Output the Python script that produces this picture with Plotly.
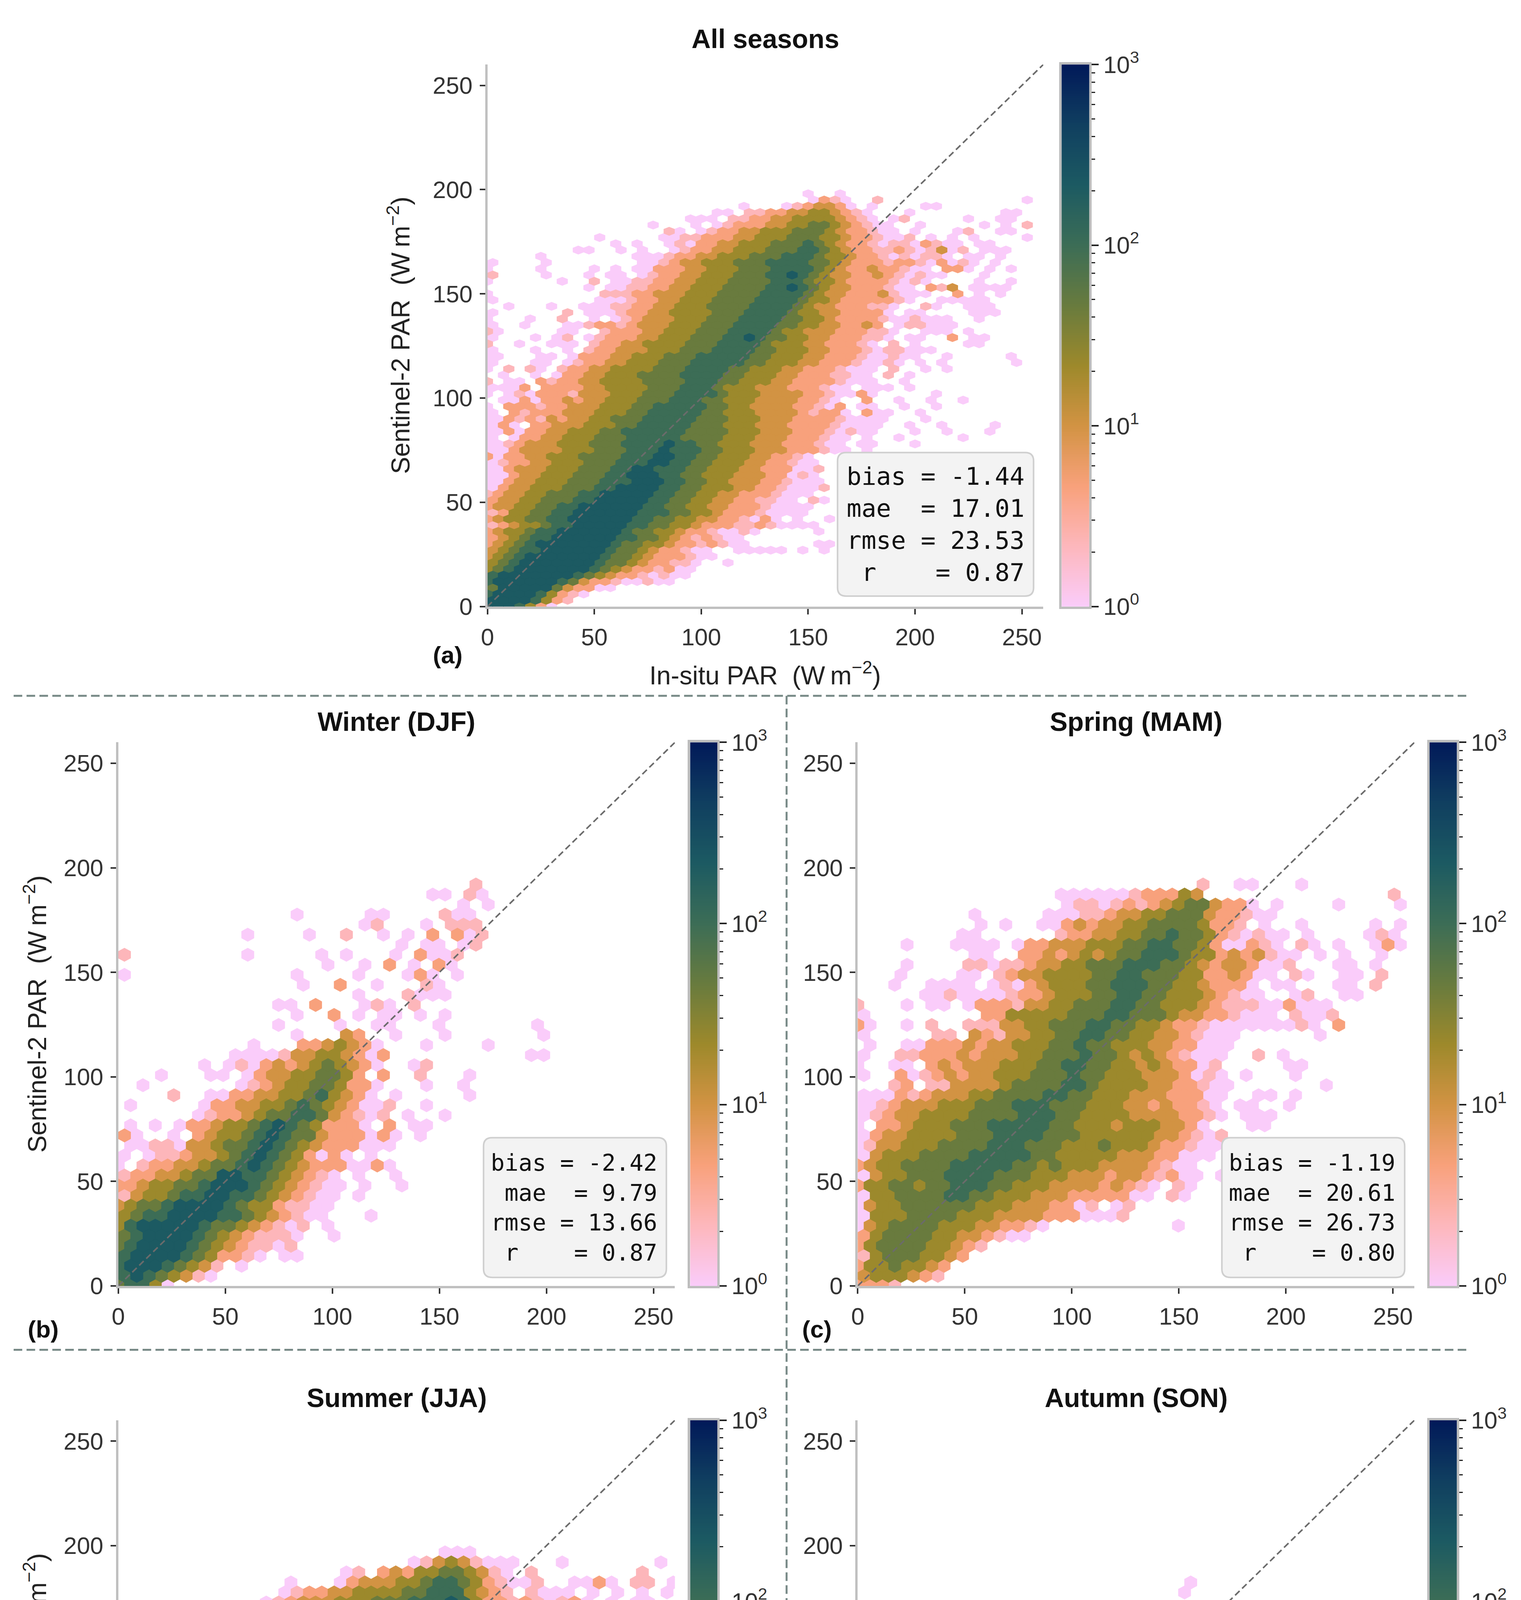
import numpy as np
import plotly.graph_objects as go
from plotly.colors import sample_colorscale

W, H = 3893, 5276
AX_MAX = 260
TICKS = [0, 50, 100, 150, 200, 250]

# ---------------- data ----------------
# hexbin count represented by each map digit '1'..'9' (log spaced, read from the colours)
LEVEL_COUNTS = [1, 2.2, 4.6, 10, 22, 46, 100, 215, 460]

STAT_NAMES = ["bias", "mae", "rmse", "r"]
STATS_ALL = ["-1.44", "17.01", "23.53", "0.87"]
STATS_DJF = ["-2.42", "9.79", "13.66", "0.87"]
STATS_MAM = ["-1.19", "20.61", "26.73", "0.80"]
STATS_JJA = ["+0.05", "23.12", "29.79", "0.74"]
STATS_SON = ["-2.59", "12.21", "17.57", "0.88"]

CB_TICKS = [0, 1, 2, 3]
CB_TEXT = ["10<sup>0</sup>", "10<sup>1</sup>", "10<sup>2</sup>", "10<sup>3</sup>"]

# hex maps: one entry per hex row, top row first; "col:digits" = run of levels from col
ALL_SEASONS = [
    "30:1 33:1",
    "30:1321 36:2 50:1",
    "24:1 28:1234431 36:1 41:11",
    "21:11 24:223344554321 39:1 48:11",
    "19:111 23:22334455554321 38:12 45:1 48:11",
    "15:1 19:1 21:12333445566543211 40:1 46:1 48:1 50:2",
    "17:21 20:1233445556665433211 40:1 44:12 48:11",
    "10:1 16:112233344555666554332112 41:1 43:1 45:1 50:1",
    "12:1 14:1 17:1213344555666765433212213211 46:11",
    "8:11 12:1 14:1 17:1233445556667765433223212412 46:111",
    "5:1 14:111233445556667776554332121221 45:11 48:1",
    "0:1 5:1 14:11234455566677776654333233213121 47:1",
    "0:1 5:1 10:1 12:1 14:1133344555666777765433433211 43:331 47:1 49:1",
    "0:2 5:1 9:1 11:11 14:12334455566677876544334321211 46:1",
    "0:1 7:1 10:2 12:112233445556666777655433332121 46:1 49:1",
    "9:1 11:11223344555666677876544333211 41:324 45:1111",
    "0:1 11:2223344455566667777654433342111 44:3 46:1 48:1",
    "0:1 10:111233445556666777765543333321 42:11111",
    "2:1 6:1 9:111223344555666677776544333221 41:21 45:111",
    "0:1 7:2 9:11123344555566677776554433331 39:11 45:111",
    "0:1 4:1 7:2 10:1 12:12344455566677776655433332112111 46:1",
    "0:1 3:1 7:112332344455566677776655443343 38:122111",
    "0:21 7:11 11:2333445556667777655444333221 41:111 45:1",
    "0:1 4:1 6:12 9:12333445556667787665544333221 39:11 43:3 45:11",
    "0:2 3:1 6:111 10:233445555666777765554433321 38:2 40:1 45:11",
    "0:1 4:1 7:1 9:233444555666777766555443332122111",
    "0:11 5:11 8:133344555666777776655544333211211 43:1 49:1",
    "0:1 4:11 7:12334455566677777665554433321121 40:1 42:1 49:1",
    "0:1 2:2 4:21 7:233445555666777766555443332111 38:2 41:1 43:1",
    "1:1 4:1 6:133445556666777766555443332211 37:2 39:1",
    "0:2 2:11 5:32334455556666777665554433332111 39:1",
    "0:1113 5:33334455556667776555444333211 35:111 39:1",
    "0:1 2:12133324445556667777655544443321131 42:1",
    "1:11313343445556667776655544443321 35:3 38:1 41:1 44:1",
    "0:1 2:33323344455566777776655444433213 35:11 39:1 42:1",
    "0:1 2:32333444555667777766555444432331 35:311 40:1",
    "0:11323243445566677777666555444333321111 41:1",
    "0:131 4:334445556677777666555444333321111 39:1 42:1 47:1",
    "0:1131334455566777777666655544433321211 40:1 43:1 47:1",
    "0:1 2:13344555666777776666555444333211 35:1 38:1 44:1",
    "0:1123444555666777787766555444333211 35:11 40:1",
    "0:1134444555666777877766555444333211 35:1",
    "0:3133445556666777887766555443321",
    "0:1233445556667778877665554433211 40:1",
    "0:11344455566677887776655544333112",
    "0:1134455566677888776655544433121",
    "0:11344555666777888776655444332111",
    "0:13445556667788887766555443321112",
    "0:2344556667788888776655443332111",
    "0:34455666778888877665544332211 30:21",
    "0:3445566778888887766554433321111",
    "0:235566778888887776655433321111",
    "0:3455667788888877665544332131 29:1 32:1",
    "0:2345567788888776655433322321111",
    "0:34556778888887665543321121 31:1",
    "0:345677888888776654323211",
    "0:3456788888887665543323211 31:11",
    "0:456778888887665433211 23:11111 29:1 31:1",
    "0:4567888888876654333211",
    "0:56788888887665433221 22:1",
    "0:56788888887654332311",
    "0:7888888876543321211",
    "0:788888876433211211",
    "0:688888643311",
    "0:7888875321",
    "0:88887532",
    "0:8887531",
]

WINTER = [
    "",
    "29:2",
    "25:11 28:21",
    "28:1 30:1",
    "14:1 20:11 26:211",
    "20:12 25:1 27:222",
    "10:1 15:1 18:2 21:1 23:1 25:3 27:312",
    "23:1 25:11 28:12",
    "0:2 10:1 16:1 18:1 22:1 24:3112",
    "17:1 20:1 22:3 24:1 26:31",
    "0:1 14:1 19:1 23:131 27:1",
    "15:1 18:3 21:1 25:21",
    "19:1 23:2111",
    "13:11 16:3 20:121 24:2",
    "14:1 17:3 19:1 21:11 24:1 26:1",
    "13:1 18:1 21:11 26:1 34:1",
    "14:1 18:43 22:1 26:1 34:1",
    "11:1 15:3345431 25:1 30:1",
    "9:1111244554313 33:11",
    "7:1 9:1213434565431 24:12",
    "3:1 7:11 10:1344556653 21:3 24:2 28:1",
    "2:1 10:123455665331 25:1 28:1",
    "4:2 7:11334455675431 22:1 28:1",
    "1:1 7:1334455676543112 25:1",
    "6:1233456677643212 23:1 26:1",
    "1:1 3:1 5:1334556787653331 22:3 24:11",
    "0:31 4:1 6:34556787664333131 24:1",
    "1:1122144566787654333111",
    "0:1 2:12234456787653131 20:1",
    "0:1 2:233445667876543331131",
    "0:233445668877654321 19:1 22:1",
    "0:3345566788876543211 20:1 23:1",
    "0:245567788776543211 19:1",
    "0:456678888765532211",
    "0:56778888776543211 20:1",
    "0:5788888766543212 17:1",
    "0:678888765432221 17:1",
    "0:678888765432212",
    "0:788887653321 13:11",
    "0:788876542 10:1",
    "0:78765421",
    "0:67751",
]

SPRING = [
    "",
    "28:2 31:11 36:1",
    "16:111111233354 43:2",
    "17:1221232345664331 34:1 39:1 44:1",
    "9:1 15:1112234455666433211",
    "10:1 12:1 15:11343445566665332 33:1 36:1 42:1 44:1",
    "8:11 16:2334455667665321211 36:1 41:121",
    "4:1 8:1111 13:1334445556677665311321 36:21 39:1 42:131",
    "9:11 13:33434545667776553434211 37:1 39:1 42:1",
    "4:1 9:221223445566677766543443112 39:11 42:1",
    "3:1 8:11 11:23445555667766655334311 35:21 39:11 42:2",
    "3:1 6:1111 11:1213455566777665543331 34:11 39:11 42:2",
    "5:1121111233455566776655543211 35:12 39:11",
    "0:2 4:1 6:11 9:133324455666776655543222113111",
    "0:1 10:335555566677666544332111 35:2112",
    "0:31 4:1 6:2 9:22244556667766554332111111121 39:3",
    "0:1 6:22 9:4324455667766554432111 37:1",
    "1:1 4:113334344555667665554433111",
    "0:1 3:223334344455666766545432111 32:2 34:1",
    "0:1 3:11 6:343444555667766554543312 35:11",
    "0:1 3:312343445556667665554443121 31:1 35:1",
    "3:23 6:2244445666677655554433211 38:1",
    "0:111323444556666776655544433311 32:11 35:1",
    "0:112344455566677766655544343321 31:11 35:1",
    "0:123445555666677766555544443321 31:111",
    "0:1 2:334555666777776655545554431 32:11",
    "0:134455556667777666555555443212",
    "0:124455566667776665556555433211 32:1",
    "0:14555666677777665555544433111 30:1",
    "0:3455666677777665655544443211",
    "0:1455666777766655544434432311 29:1",
    "0:3556656677766555444434321 26:21",
    "0:155666677665554443333311 25:21",
    "0:14556666665554443312 21:12",
    "0:1555666655544443331112",
    "0:1456666555443321 26:1",
    "0:35666655443211",
    "0:35666655432",
    "0:256665543",
    "0:35565543",
    "0:4555432",
    "0:3332",
]

SUMMER = [
    "26:111",
    "24:124542111 36:1 44:1",
    "18:12 21:34355665421 33:2 42:2",
    "14:1 18:13444556776532112 37:1131 42:22 45:1",
    "13:1233445555667775432 33:2111 38:1 40:1 42:1 44:1",
    "12:123444555666777875332321231 40:1 42:11",
    "0:1 6:11 12:1233455566677787654334323211 42:1",
    "0:1 4:1 8:1 11:1234455566677788765434332121111",
    "0:1 3:1 7:1 9:21344455666777788776543433211111",
    "0:1 6:1 9:122244555666777877654434332231121",
    "1:1 9:123445556667778877654432321112111",
    "7:123112445556677787666543231111121",
    "0:1 7:121 11:2344556677777665544132332211",
    "0:1 7:113334455566777776654433132313 38:1",
    "3:11 6:3212344455666777666554331223231 41:1",
    "0:1 4:113323344455566667665543321 32:221",
    "0:1 2:11232323445556666665554332211 32:111 36:11 42:1",
    "2:11 5:221 9:2334455566665554432111 32:11",
    "2:11 6:11333555556665555443312 30:11111",
    "6:111 10:3444555565555543321121111",
    "6:112334455556555544443311211",
    "4:1113434455555565555443321121 36:1",
    "4:1134445555566665555443321121",
    "4:11444556666666665555433212321 37:1",
    "2:234455566677777766655543332121 34:1 38:1",
    "0:21344556666777787776655554333111 35:1 39:1",
    "0:34455566677777787766555543323111",
    "0:324455666677777776665544332232111",
    "0:13455666667777666665544332221",
    "0:144556666776666655544432111",
    "0:145556666655555544433211 25:11",
    "0:134556655555444544343221 25:11",
    "0:45555554445444432243221",
    "0:13455555444434322231211",
    "0:1444555444334332121 20:31",
    "0:1444444332334421221 20:1 27:22",
    "0:343432324232442311 19:111111",
    "0:4433322332223311",
    "0:3221 5:13332112 15:1",
    "0:221 6:211",
    "6:21",
    "",
]

AUTUMN = [
    "",
    "",
    "",
    "27:1",
    "26:1",
    "",
    "14:1 18:1 22:13 26:1 29:1",
    "19:2 23:11 29:1",
    "10:2 14:1 19:1113 24:211",
    "16:1 19:213311111",
    "15:2212223311212",
    "14:3123433343122",
    "14:3133344454312 30:21 35:11",
    "12:1133434555544321 31:1 34:1 37:11",
    "10:11243444566554431 30:11 33:31",
    "0:1 3:1 9:12 12:243445566654433 28:11111 34:1111 39:1",
    "0:1 4:1 6:2 9:333434455676655431112322 34:1 36:1",
    "3:111 8:1234445556676655431123 35:1",
    "0:1 2:111111 9:234445566766543331231",
    "0:111 6:1112344556677665433323211",
    "0:1 4:11 7:1134455667766543321 27:12111 34:1",
    "0:1 2:2 4:11 7:314455667766544323113211 34:1",
    "0:112 5:1 7:234455667665444331 26:1131",
    "0:11 5:11344556677654443321 26:121 31:3",
    "0:1 5:113455667766544433211 27:11",
    "0:21223214455677765544333112 28:1 30:2",
    "0:31 3:33444556678765544433 24:12 27:1 29:1",
    "0:1 2:234345566778765544433 24:21 27:11",
    "0:1 2:2344556677876655443332211",
    "0:1 2:34555667777665554432321 26:1 28:1",
    "0:14455667777665554433221 27:11",
    "0:135566777766555544321321",
    "0:356677877665554433211 25:11",
    "0:45677788766554433211",
    "0:567778876654433211 19:1",
    "0:45778876655433211 19:1",
    "0:577887765443321",
    "0:678877654333132",
    "0:77876544321",
    "0:788654221 10:1",
    "0:78753",
    "0:78652",
]

# ---------------- style ----------------
BATLOW_R = ["#FACCFA", "#FDB7BC", "#F8A17B", "#D29343", "#9D892B",
            "#687B3E", "#3C6D56", "#1C5A62", "#103F60", "#011959"]
CSCALE = [[j / 9, c] for j, c in enumerate(BATLOW_R)]
FONT = "Liberation Sans, Arial, Helvetica, sans-serif"
MONO = "DejaVu Sans Mono, monospace"
TXT = "#333333"
SPINE = "#c0c0c0"

# pixel boxes: plot area (left, right, top, bottom), colorbar x-span, stats box (l, r, t, b)
PANELS = [
    dict(rows=ALL_SEASONS, hexsize=(5.0, 6.0), stats=STATS_ALL, title="All seasons", tag="(a)",
         box=(1236, 2665, 124, 1532), cbar=(2712, 2783), sbox=(2136, 2640, 1132, 1505), sfont=63,
         title_y=57, tag_xy=(1134, 1658), xlab_y=1706, ylab_x=1008),
    dict(rows=WINTER, hexsize=(5.76, 9.6), stats=STATS_DJF, title="Winter (DJF)", tag="(b)",
         box=(287, 1718, 1885, 3297), cbar=(1757, 1827), sbox=(1226, 1696, 2912, 3275), sfont=59,
         title_y=1831, tag_xy=(94, 3409), xlab_y=None, ylab_x=74),
    dict(rows=SPRING, hexsize=(5.76, 9.6), stats=STATS_MAM, title="Spring (MAM)", tag="(c)",
         box=(2188, 3619, 1885, 3297), cbar=(3658, 3728), sbox=(3124, 3594, 2912, 3275), sfont=59,
         title_y=1831, tag_xy=(2083, 3409), xlab_y=None, ylab_x=None),
    dict(rows=SUMMER, hexsize=(5.76, 9.6), stats=STATS_JJA, title="Summer (JJA)", tag="(d)",
         box=(287, 1718, 3646, 5058), cbar=(1757, 1827), sbox=(1222, 1696, 4676, 5035), sfont=59,
         title_y=3587, tag_xy=(94, 5170), xlab_y=5213, ylab_x=74),
    dict(rows=AUTUMN, hexsize=(5.76, 9.6), stats=STATS_SON, title="Autumn (SON)", tag="(e)",
         box=(2188, 3619, 3646, 5058), cbar=(3658, 3728), sbox=(3124, 3594, 4676, 5035), sfont=59,
         title_y=3587, tag_xy=(2083, 5170), xlab_y=5213, ylab_x=None),
]


def parse_rows(rows):
    cells = []
    n = len(rows)
    for k, row in enumerate(rows):
        r = n - 1 - k
        for run in row.split():
            start, digits = run.split(":")
            for j, ch in enumerate(digits):
                if ch != ".":
                    cells.append((r, int(start) + j, int(ch)))
    return cells


def hex_traces(rows, sx, sy, xa, ya):
    cx = sx * np.array([0.5, 0.5, 0, -0.5, -0.5, 0, 0.5])
    cy = sy / 6 * np.array([-1, 1, 2, 1, -1, -2, -1])
    groups = {}
    for r, i, lev in parse_rows(rows):
        xc = (i + 0.5 * (r % 2)) * sx
        yc = r * sy / 2
        gx, gy = groups.setdefault(lev, ([], []))
        gx.extend([round(float(v), 3) for v in xc + cx] + [None])
        gy.extend([round(float(v), 3) for v in yc + cy] + [None])
    out = []
    for lev in sorted(groups):
        t = np.log10(LEVEL_COUNTS[lev - 1]) / 3
        col = sample_colorscale(CSCALE, [t])[0]
        gx, gy = groups[lev]
        out.append(go.Scatter(x=gx, y=gy, xaxis=xa, yaxis=ya, mode="lines", fill="toself",
                              fillcolor=col, line=dict(color=col, width=1.2),
                              hoverinfo="skip", showlegend=False))
    return out


def px(x, y):
    return x / W, 1 - y / H


def rounded_box(l, r, t, b, rad=22):
    # rounded rectangle path in paper coordinates, from pixel extents
    pts = [("M", l + rad, t), ("L", r - rad, t), ("Q", r, t, r, t + rad), ("L", r, b - rad),
           ("Q", r, b, r - rad, b), ("L", l + rad, b), ("Q", l, b, l, b - rad), ("L", l, t + rad),
           ("Q", l, t, l + rad, t)]
    parts = []
    for p in pts:
        cmd, coords = p[0], p[1:]
        xy = []
        for k in range(0, len(coords), 2):
            fx, fy = px(coords[k], coords[k + 1])
            xy.append(f"{fx:.5f},{fy:.5f}")
        parts.append(cmd + " ".join(xy))
    return " ".join(parts) + " Z"


def ax_names(idx):
    s = "" if idx == 1 else str(idx)
    return "x" + s, "y" + s, "xaxis" + s, "yaxis" + s


fig = go.Figure()
layout = {}
annotations = []
shapes = []
cb_vals = np.linspace(0, 3, 301)
minor_vals = [float(np.log10(m) + k) for k in range(3) for m in range(2, 10)]
axis_title = "\u00a0\u00a0(W\u2009m<sup>\u22122</sup>)"

for n, p in enumerate(PANELS):
    xa, ya, xk, yk = ax_names(n + 1)
    cxa, cya, cxk, cyk = ax_names(n + 6)
    left, right, top, bottom = p["box"]
    for tr in hex_traces(p["rows"], *p["hexsize"], xa, ya):
        fig.add_trace(tr)

    common = dict(range=[0, AX_MAX], tickvals=TICKS, showline=True, linecolor=SPINE, linewidth=6,
                  ticks="outside", ticklen=14, tickwidth=4, tickcolor=TXT, ticklabelstandoff=6,
                  tickfont=dict(family=FONT, size=61, color=TXT), showgrid=False, zeroline=False)
    layout[xk] = dict(common, domain=[left / W, right / W], anchor=ya)
    layout[yk] = dict(common, domain=[1 - bottom / H, 1 - top / H], anchor=xa)

    # 1:1 reference line
    shapes.append(dict(type="line", xref=xa, yref=ya, x0=0, y0=0, x1=AX_MAX, y1=AX_MAX,
                       line=dict(color="#6b6b6b", width=4, dash="16px,9px"), layer="above"))

    # colour bar as its own small axes
    c0, c1 = p["cbar"]
    fig.add_trace(go.Heatmap(z=[[float(v)] for v in cb_vals], x=[0], y=cb_vals, colorscale=CSCALE,
                             zmin=0, zmax=3, showscale=False, xaxis=cxa, yaxis=cya,
                             hoverinfo="skip"))
    layout[cxk] = dict(domain=[c0 / W, c1 / W], anchor=cya, range=[-0.5, 0.5], showticklabels=False,
                       ticks="", showline=True, mirror=True, linecolor="#bdbdbd", linewidth=6,
                       showgrid=False, zeroline=False)
    layout[cyk] = dict(domain=[1 - bottom / H, 1 - top / H], anchor=cxa, range=[0, 3], side="right",
                       tickvals=CB_TICKS, ticktext=CB_TEXT, ticks="outside", ticklen=18, tickwidth=4,
                       tickcolor="#222222", tickfont=dict(family=FONT, size=61, color=TXT),
                       minor=dict(tickvals=minor_vals, ticks="outside", ticklen=9, tickwidth=3,
                                  tickcolor="#222222", showgrid=False),
                       showline=True, mirror=True, linecolor="#bdbdbd", linewidth=6,
                       showgrid=False, zeroline=False)

    # statistics box (rounded frame + right-aligned monospace lines)
    sl, sr, st, sb = p["sbox"]
    shapes.append(dict(type="path", xref="paper", yref="paper", path=rounded_box(sl, sr, st, sb),
                       fillcolor="#f3f3f3", line=dict(color="#cfcfcf", width=4), layer="above"))
    lines = [f"{nm:<4} = {v}".replace(" ", "\u00a0") for nm, v in zip(STAT_NAMES, p["stats"])]
    bx, by = px(sr - 22, (st + sb) / 2)
    annotations.append(dict(text="<br>".join(lines), xref="paper", yref="paper", x=bx, y=by,
                            xanchor="right", yanchor="middle", showarrow=False, align="right",
                            font=dict(family=MONO, size=p["sfont"], color="#111111")))

    # title, panel tag, axis labels
    tx, ty = px((left + right) / 2, p["title_y"])
    annotations.append(dict(text=f"<b>{p['title']}</b>", x=tx, y=ty, xref="paper", yref="paper",
                            showarrow=False, xanchor="center", yanchor="middle",
                            font=dict(family=FONT, size=68, color="#111111")))
    gx, gy = px(*p["tag_xy"])
    annotations.append(dict(text=f"<b>{p['tag']}</b>", x=gx, y=gy, xref="paper", yref="paper",
                            showarrow=False, xanchor="center", yanchor="middle",
                            font=dict(family=FONT, size=62, color="#111111")))
    if p["xlab_y"] is not None:
        lx, ly = px((left + right) / 2, p["xlab_y"])
        annotations.append(dict(text="In-situ PAR" + axis_title, x=lx, y=ly, xref="paper",
                                yref="paper", showarrow=False, xanchor="center", yanchor="middle",
                                font=dict(family=FONT, size=66, color="#222222")))
    if p["ylab_x"] is not None:
        lx, ly = px(p["ylab_x"], (top + bottom) / 2)
        annotations.append(dict(text="Sentinel-2 PAR" + axis_title, x=lx, y=ly, xref="paper",
                                yref="paper", showarrow=False, xanchor="center", yanchor="middle",
                                textangle=-90, font=dict(family=FONT, size=66, color="#222222")))

# dashed separators between the panel groups
sep = dict(color="#788a87", width=5, dash="22px,11px")
for yy in (1764, 3463):
    shapes.append(dict(type="line", xref="paper", yref="paper", x0=18 / W, x1=3762 / W,
                       y0=1 - yy / H, y1=1 - yy / H, line=sep))
shapes.append(dict(type="line", xref="paper", yref="paper", x0=2005 / W, x1=2005 / W,
                   y0=1 - 1764 / H, y1=1 - 5270 / H, line=sep))

fig.update_layout(width=W, height=H, margin=dict(l=0, r=0, t=0, b=0),
                  paper_bgcolor="white", plot_bgcolor="white", showlegend=False,
                  annotations=annotations, shapes=shapes, **layout)
fig.write_html("out.html", config={"responsive": False, "displayModeBar": False},
               post_script="document.body.style.margin='0';document.body.style.padding='0';"
                           "document.documentElement.style.overflow='hidden';")
